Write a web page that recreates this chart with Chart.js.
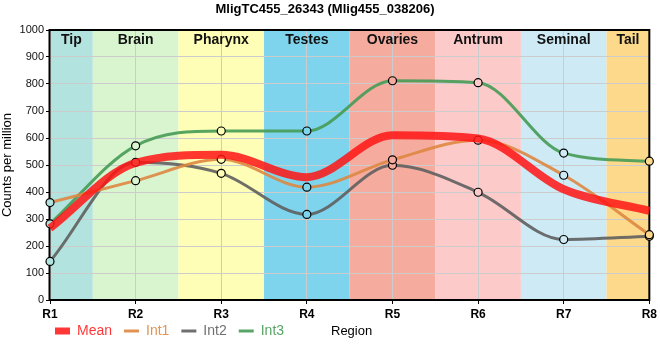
<!DOCTYPE html>
<html><head><meta charset="utf-8">
<script src="https://cdn.jsdelivr.net/npm/chart.js@4.4.1/dist/chart.umd.min.js"></script>
<style>html,body{margin:0;padding:0;background:#fff;}#wrap{width:660px;height:360px;}</style>
</head><body><div id="wrap"><canvas id="c" width="660" height="360"></canvas></div>
<script>
const categories = ['R1','R2','R3','R4','R5','R6','R7','R8'];
const meanValues = [266, 508, 538, 455, 610, 598, 410, 330];
const int1Values = [361, 442, 521, 418, 519, 592, 462, 242];
const int2Values = [143, 510, 469, 317, 499, 399, 224, 236];
const int3Values = [282, 571, 626, 626, 812, 805, 544, 514];
const bandNames = ['Tip','Brain','Pharynx','Testes','Ovaries','Antrum','Seminal','Tail'];
const bandColors = ['#b3e3de','#d9f5d0','#fefeb6','#7dd4ec','#f5ab9e','#fdcaca','#cdeaf5','#fdd98b'];
const yTicks = [0,100,200,300,400,500,600,700,800,900,1000];

const colMean = 'rgba(255,20,20,0.85)';
const colInt1 = 'rgba(222,135,65,0.9)';
const colInt2 = 'rgba(95,95,95,0.9)';
const colInt3 = 'rgba(70,155,85,0.9)';

const FONT = "'Liberation Sans', Arial, sans-serif";

const bandPlugin = {
  id: 'bands',
  afterLayout(chart) {
    chart.legend.left = 43;
    chart.legend.top = 312;
  },
  beforeDraw(chart) {
    const {ctx, chartArea: a, scales: {x}} = chart;
    ctx.save();
    ctx.fillStyle = '#fff';
    ctx.fillRect(0, 0, chart.width, chart.height);
    bandNames.forEach((n, i) => {
      const l = Math.max(a.left, x.getPixelForValue(i - 0.5));
      const r = Math.min(a.right, x.getPixelForValue(i + 0.5));
      ctx.fillStyle = bandColors[i];
      ctx.fillRect(l, a.top, r - l, a.bottom - a.top);
    });
    ctx.restore();
  },
  beforeDatasetsDraw(chart) {
    const {ctx, chartArea: a, scales: {x}} = chart;
    ctx.save();
    ctx.strokeStyle = '#000';
    ctx.lineWidth = 2;
    ctx.strokeRect(a.left - 0.5, a.top, a.right - a.left + 0.5, a.bottom - a.top);
    ctx.fillStyle = '#111';
    ctx.font = "bold 14px " + FONT;
    ctx.textAlign = 'center';
    ctx.textBaseline = 'alphabetic';
    bandNames.forEach((n, i) => {
      const l = Math.max(a.left, x.getPixelForValue(i - 0.5));
      const r = Math.min(a.right, x.getPixelForValue(i + 0.5));
      ctx.fillText(n, (l + r) / 2, a.top + 14);
    });
    ctx.restore();
  },
  afterDraw(chart) {
    const {ctx} = chart;
    ctx.save();
    ctx.fillStyle = '#000';
    ctx.font = "13px " + FONT;
    ctx.textAlign = 'left';
    ctx.textBaseline = 'middle';
    ctx.fillText('Region', 331, 331);
    ctx.restore();
  }
};

const mkLine = (label, data, color, width, points) => ({
  label, data,
  borderColor: color,
  backgroundColor: color,
  borderWidth: width,
  cubicInterpolationMode: 'monotone',
  pointRadius: points ? 4 : 0,
  pointHoverRadius: points ? 4 : 0,
  pointBorderColor: '#000',
  pointBorderWidth: 1.2,
  pointBackgroundColor: bandColors,
  clip: 8,
  fill: false
});

new Chart(document.getElementById('c'), {
  type: 'line',
  data: {
    labels: categories,
    datasets: [
      mkLine('Mean', meanValues, colMean, 8, false),
      mkLine('Int1', int1Values, colInt1, 3, true),
      mkLine('Int2', int2Values, colInt2, 3, true),
      mkLine('Int3', int3Values, colInt3, 3, true)
    ]
  },
  options: {
    responsive: false,
    animation: false,
    devicePixelRatio: 1,
    layout: { padding: { left: 0, right: 10, top: 0, bottom: 0 } },
    plugins: {
      title: {
        display: true,
        text: 'MligTC455_26343 (Mlig455_038206)',
        color: '#000',
        font: { family: FONT, size: 13, weight: 'bold' },
        padding: { top: 1.5, bottom: 12.9 }
      },
      legend: {
        display: true,
        position: 'bottom',
        align: 'start',
        labels: {
          usePointStyle: true,
          pointStyle: 'line',
          pointStyleWidth: 15,
          boxWidth: 15,
          padding: 12,
          font: { family: FONT, size: 14 },
          generateLabels(chart) {
            const items = Chart.defaults.plugins.legend.labels.generateLabels(chart);
            items.forEach(it => {
              const ds = chart.data.datasets[it.datasetIndex];
              it.fontColor = ds.borderColor;
              it.strokeStyle = ds.borderColor;
              it.fillStyle = ds.borderColor;
              it.lineWidth = ds.borderWidth === 8 ? 7 : ds.borderWidth;
            });
            return items;
          }
        }
      },
      tooltip: { enabled: false }
    },
    scales: {
      x: {
        type: 'category',
        offset: false,
        afterFit(s) { s.height = 24; },
        grid: { color: '#cccccc', lineWidth: 1, drawTicks: true, tickLength: 4, tickColor: '#000' },
        border: { display: false },
        ticks: { color: '#000', padding: 3, font: { family: FONT, size: 12, weight: 'bold' }, maxRotation: 0, autoSkip: false }
      },
      y: {
        min: 0, max: 1000,
        afterFit(s) { s.width = 50; },
        afterBuildTicks(s) { s.ticks = yTicks.map(v => ({ value: v })); },
        grid: { color: '#cccccc', lineWidth: 1, drawTicks: true, tickLength: 4, tickColor: '#000' },
        border: { display: false },
        ticks: { color: '#111', padding: 2, font: { family: FONT, size: 11 }, callback: v => String(v) },
        title: { display: true, text: 'Counts per million', color: '#000', font: { family: FONT, size: 13 }, padding: 0 }
      }
    }
  },
  plugins: [bandPlugin]
});
</script>
</body></html>
